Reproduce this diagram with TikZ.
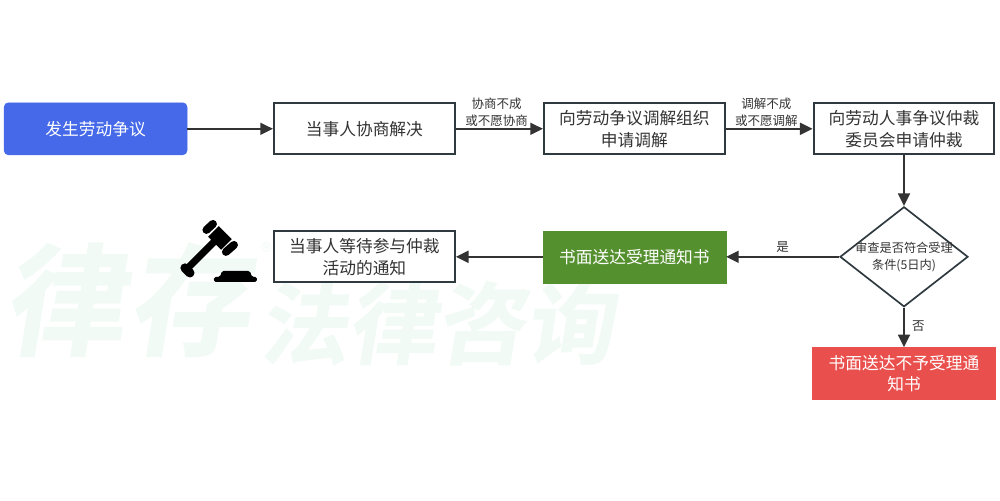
\documentclass[tikz,border=0pt]{standalone}
\usepackage{fontspec}
\setmainfont{Noto Sans CJK SC}
\newfontfamily\wmfont[FakeSlant=0.16,FakeBold=1]{Noto Sans CJK SC Bold}
\usepackage{tikz}
\usetikzlibrary{arrows.meta,positioning,shapes.geometric}
\definecolor{cInk}{HTML}{2F3A40}
\definecolor{cText}{HTML}{333333}
\definecolor{cBlue}{HTML}{4569E8}
\definecolor{cGreen}{HTML}{55902F}
\definecolor{cRed}{HTML}{E94F4C}
\definecolor{cMark}{HTML}{F2FAF6}
\tikzset{
  flowbox/.style={draw=cInk,fill=white,line width=1.5pt,minimum width=4.52cm,minimum height=1.27cm,align=center,font=\fontsize{11.9pt}{15.5pt}\selectfont,inner sep=1pt,text=cText},
  solidbox/.style={flowbox,draw=#1,fill=#1,line width=0.4pt,minimum width=4.57cm,minimum height=1.3cm,text=white},
  check/.style={draw=cInk,fill=white,diamond,aspect=1.28,line width=1.2pt,minimum width=3.2cm,minimum height=2.5cm,inner sep=0pt},
  arr/.style={-{Triangle[length=9pt,width=8.5pt]},line width=1.4pt,color=cText},
  lbl/.style={font=\fontsize{8.9pt}{12pt}\selectfont,text=cText,align=center,inner sep=1pt},
  wmark/.style={text=cMark,inner sep=0pt},
}
\begin{document}
\begin{tikzpicture}[x=1cm,y=1cm]
    \useasboundingbox (0,0) rectangle (25,12.5);
    % watermark
    \node[wmark,font=\wmfont\fontsize{86pt}{86pt}\selectfont] (wm1) at (3.15,5.0) {律\hspace{3pt}存};
    \node[wmark,font=\wmfont\fontsize{63pt}{63pt}\selectfont] (wm2) at (10.9,4.42) {法律咨询};
    \node[wmark,font=\fontsize{16pt}{16pt}\selectfont] (wm3) at (6.68,6.2) {®};
    % flow
    \node[solidbox=cBlue,rounded corners=3pt] (b1) at (2.39,9.28) {发生劳动争议};
    \node[flowbox] (b2) at (9.11,9.28) {当事人协商解决};
    \node[flowbox] (b3) at (15.86,9.28) {向劳动争议调解组织\\申请调解};
    \node[flowbox] (b4) at (22.6,9.28) {向劳动人事争议仲裁\\委员会申请仲裁};
    \node[check,label={[lbl,font=\fontsize{8.7pt}{12pt}\selectfont]center:审查是否符合受理\\条件(5日内)}] (d1) at (22.6,6.08) {};
    \node[solidbox=cGreen] (b5) at (15.86,6.08) {书面送达受理通知书};
    \node[flowbox] (b6) at (9.11,6.08) {当事人等待参与仲裁\\活动的通知};
    \node[solidbox=cRed] (b7) at (22.6,3.16) {书面送达不予受理通\\知书};
    \draw[arr] (b1) -- (b2);
    \draw[arr] (b2) -- node[lbl,above=0pt,xshift=-0.07cm]{协商不成\\或不愿协商} (b3);
    \draw[arr] (b3) -- node[lbl,above=0pt,xshift=-0.07cm]{调解不成\\或不愿调解} (b4);
    \draw[arr] (b4) -- (d1);
    \draw[arr] (d1) -- node[lbl,above=1pt]{是} (b5);
    \draw[arr] (d1) -- node[lbl,right=4pt,yshift=1pt]{否} (b7);
    \draw[arr] (b5) -- (b6);
    % gavel
    \begin{scope}[shift={(0,12.5)},x=0.025cm,y=-0.025cm,black,line cap=round]
      \draw[line width=5pt,line cap=butt] (188,268) -- (216,240);
      \draw[line width=6.5pt] (185,268) -- (190,273);
      \draw[line width=5.7pt] (206.5,230) -- (213,224);
      \draw[line width=10.7pt,line cap=butt] (213.5,231.5) -- (226.5,244.5);
      \draw[line width=5.7pt] (226,252) -- (234,245);
      \fill[rounded corners=1.2pt] (214,282) -- (214,277) -- (220,277) -- (222,271) -- (250,271) -- (252,277) -- (257,277) -- (257,282) -- cycle;
    \end{scope}
  \end{tikzpicture}
\end{document}
